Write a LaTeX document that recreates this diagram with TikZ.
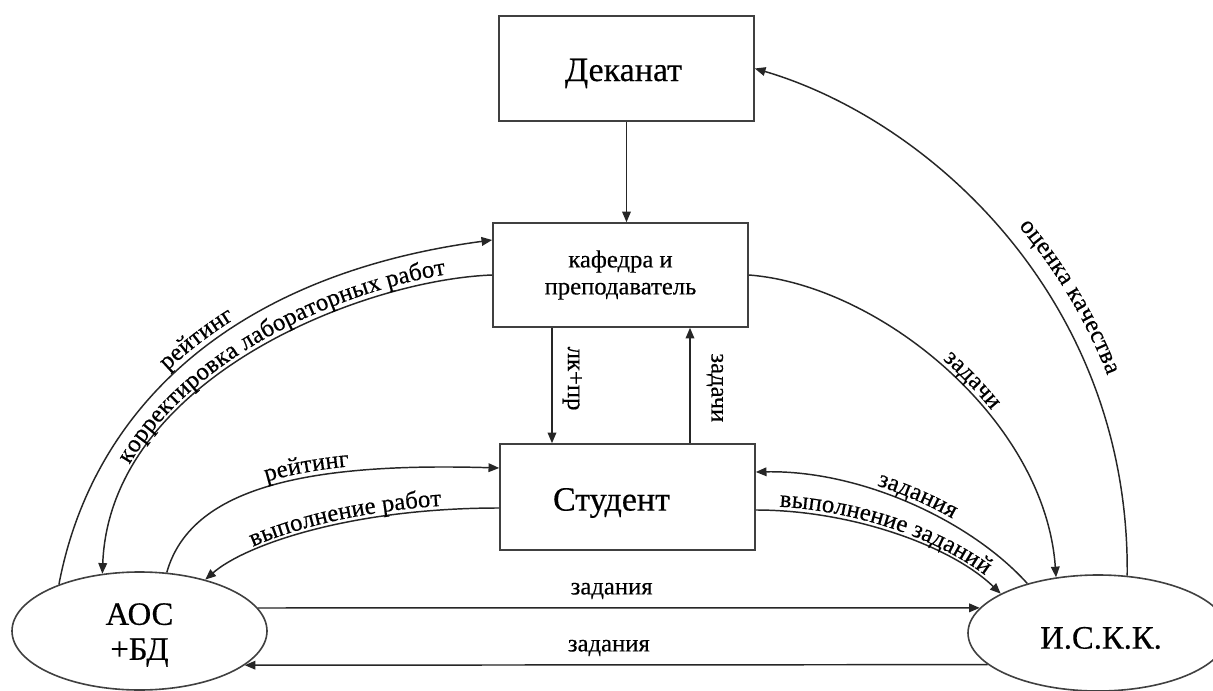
\documentclass[tikz,border=0pt]{standalone}
\usepackage{fontspec}
\setmainfont{Liberation Serif}[FakeBold=0.4]
\usetikzlibrary{arrows.meta,shapes.geometric,calc,decorations.text}

\newcommand{\lblfont}{\fontsize{18.5}{20.25}\selectfont}
\newcommand{\bigfont}{\fontsize{25.5}{28}\selectfont}
\newcommand{\ovalfont}{\fontsize{24.5}{26.25}\selectfont}

\begin{document}
\begin{tikzpicture}[x=0.75pt,y=-0.75pt,
  box/.style={draw=black!75, line width=1.2pt, minimum width=191.25pt, inner sep=0pt, align=center},
  oval/.style={ellipse, draw=black!75, line width=1.2pt, inner sep=0pt},
  conn/.style={draw=black!85, line width=1.1pt, -{Triangle[length=8pt,width=6.5pt]}},
  connrev/.style={draw=black!85, line width=1.1pt, {Triangle[length=8pt,width=6.5pt]}-},
  along/.style n args={3}{postaction={decorate, decoration={text along path,
      text align={#2}, raise=#1, text={|\lblfont|#3}}}},
  lbl/.style={font=\lblfont, inner sep=0pt},
  title/.style={font=\bigfont, inner sep=0pt, align=center},
]
\useasboundingbox (0,0) rectangle (1213,691);
\fill[white] (0,0) rectangle (1213,691);
\clip (0,0) rectangle (1213,691);

% units: one unit = one pixel of the drawing, y grows downwards
\node[box, minimum height=78.75pt] (dek) at (626.5,68.5) {};
\node[title] (dektext) at ($(dek.center)+(-3,5)$) {Деканат};
\node[box, minimum height=78pt, font=\lblfont] (kaf) at (620.5,275) {кафедра и\\преподаватель};
\node[box, minimum height=79.5pt] (stud) at (627.5,497) {};
\node[title] (studtext) at ($(stud.center)+(-16,6)$) {Студент};
\node[oval, minimum width=191.25pt, minimum height=88.5pt] (aos) at (139.5,631) {};
\node[title, font=\ovalfont] (aostext) at ($(aos.center)+(0,4)$) {АОС\\+БД};
\node[oval, minimum width=195pt, minimum height=87pt] (iskk) at (1098,633) {};
\node[title, font=\ovalfont] (iskktext) at ($(iskk.center)+(3,5)$) {И.С.К.К.};

% vertical links
\draw[conn] (dek.south) -- (dek.south |- kaf.north);
\coordinate (kd) at ($(kaf.south)+(-68.5,0)$);
\coordinate (ku) at ($(kaf.south)+(69.5,0)$);
\draw[conn] (kd) -- (kd |- stud.north)
  node[pos=0.44, anchor=south, rotate=-90, lbl, inner sep=7.5pt] (lkpr) {лк+пр};
\draw[conn] (ku |- stud.north) -- (ku)
  node[pos=0.48, anchor=south, rotate=-90, lbl, inner sep=12pt] (zadachi) {задачи};

% straight links between the ovals
\draw[conn] (aos.11) -- (iskk.168)
  node[pos=0.49, anchor=south, lbl, inner sep=6pt] (zad1) {задания};
\draw[conn] (iskk.196) -- (aos.-18)
  node[pos=0.51, anchor=south, lbl, inner sep=6pt] (zad2) {задания};

% curved links on the left
\draw[conn, along={5pt}{left indent=181pt}{рейтинг}]
  (aos.150) .. controls (92,410) and (230,275) .. ($(kaf.west)+(0,-35)$);
\draw[connrev, along={4pt}{left indent=84pt}{корректировка лабораторных работ}]
  (aos.123) .. controls (110,380) and (360,280) .. (kaf.west);
\draw[conn, along={4pt}{left indent=104pt}{рейтинг}]
  (aos.65) .. controls (190,490) and (300,462) .. ($(stud.west)+(0,-29)$);
\draw[connrev, along={3pt}{center}{выполнение работ}]
  (aos.38) .. controls (245,545) and (350,508) .. ($(stud.west)+(0,11)$);

% curved links on the right
\draw[conn, along={4pt}{left indent=160pt}{задачи}]
  (kaf.east) .. controls (880,285) and (1045,420) .. (iskk.127);
\draw[connrev, along={12pt}{left indent=230pt}{оценка качества}]
  (dek.east) .. controls (930,120) and (1130,300) .. (iskk.63);
\draw[connrev, along={4pt}{left indent=91pt}{задания}]
  ($(stud.east)+(0,-25)$) .. controls (860,470) and (970,520) .. (iskk.145);
\draw[conn, along={3pt}{center}{выполнение заданий}]
  ($(stud.east)+(0,13)$) .. controls (850,510) and (950,545) .. (iskk.158);
\end{tikzpicture}
\end{document}
